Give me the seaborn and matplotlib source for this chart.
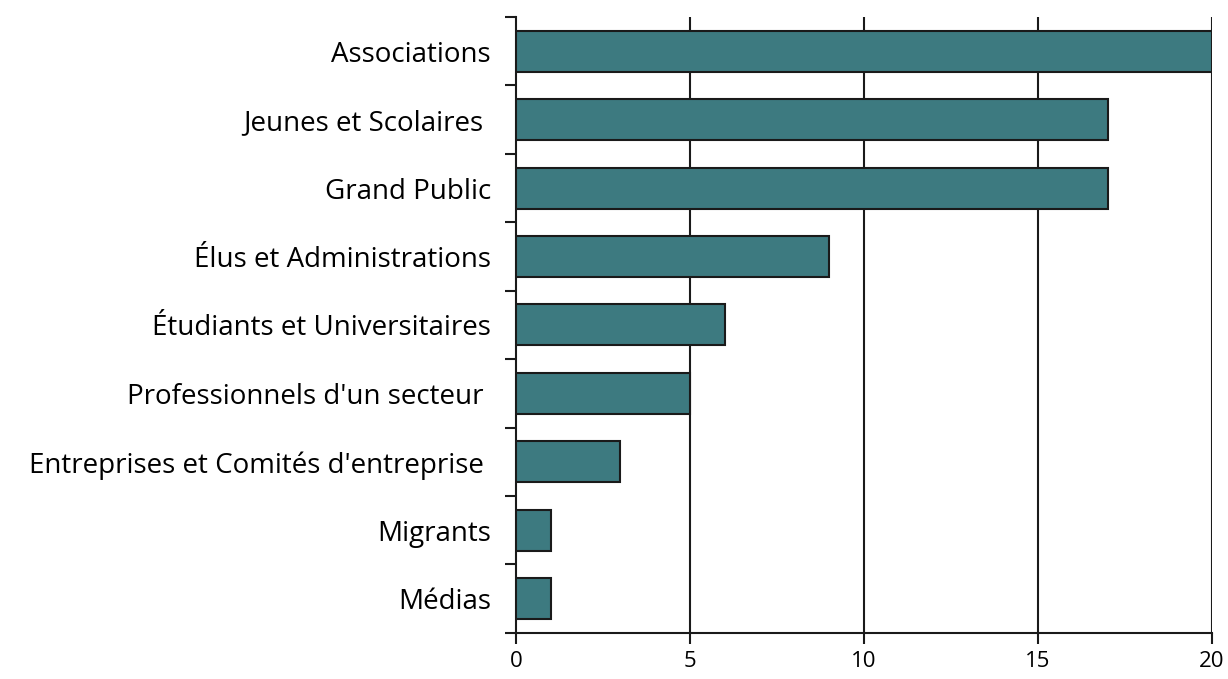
import matplotlib
matplotlib.use("Agg")
import matplotlib.pyplot as plt
import seaborn as sns
import numpy as np
import pandas as pd

# Data
categories = [
    "Associations",
    "Jeunes et Scolaires ",
    "Grand Public",
    "Élus et Administrations",
    "Étudiants et Universitaires",
    "Professionnels d'un secteur ",
    "Entreprises et Comités d'entreprise ",
    "Migrants",
    "Médias",
]
counts = [20, 17, 17, 9, 6, 5, 3, 1, 1]
x_ticks = [0, 5, 10, 15, 20]

sns.set_style("white")
plt.rcParams['font.family'] = ['Open Sans', 'DejaVu Sans']
plt.rcParams['font.size'] = 20
plt.rcParams['text.color'] = 'black'
plt.rcParams['xtick.color'] = 'black'
plt.rcParams['ytick.color'] = 'black'

df = pd.DataFrame({'category': categories, 'count': counts})

fig = plt.figure(figsize=(12.28, 6.79), dpi=100)
ax = fig.add_axes([0.420, 0.068, 0.567, 0.907])

sns.barplot(data=df, y='category', x='count', orient='h', color='#3d7a80',
            saturation=1, width=0.6, edgecolor='#1a1a1a', linewidth=1.5,
            ax=ax, zorder=3)

ax.set_xlim(0, 20)
ax.set_ylim(len(categories) - 0.5, -0.5)
ax.set_xticks(x_ticks)
ax.set_xlabel('')
ax.set_ylabel('')

# vertical grid lines
for v in x_ticks[1:]:
    ax.axvline(v, color='#1a1a1a', linewidth=1.5, zorder=2)

for side in ['top', 'right']:
    ax.spines[side].set_visible(False)
for side in ['left', 'bottom']:
    ax.spines[side].set_color('#1a1a1a')
    ax.spines[side].set_linewidth(1.5)

# category separators as minor ticks on the left axis
ax.set_yticks(np.arange(-0.5, len(categories), 1.0), minor=True)
ax.tick_params(axis='y', which='both', left=True)
ax.tick_params(axis='y', which='major', length=0, pad=18, labelsize=20)
ax.tick_params(axis='y', which='minor', length=8, width=1.5, color='#1a1a1a', direction='out')
ax.tick_params(axis='x', which='major', bottom=True, length=8, width=1.5, color='#1a1a1a',
               direction='out', pad=5, labelsize=16)

fig.savefig('out.png', dpi=100)
plt.close(fig)
